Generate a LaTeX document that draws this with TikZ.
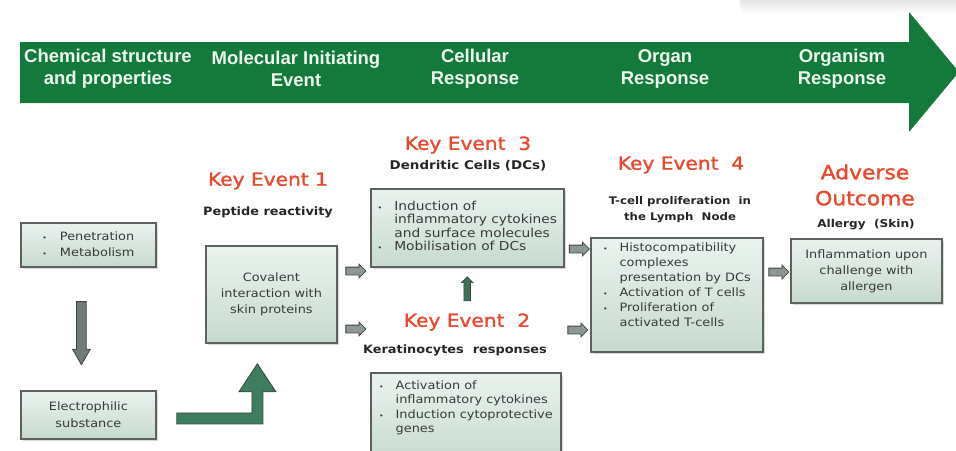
\documentclass[tikz,border=0pt]{standalone}
\usepackage{fontspec}
\newfontfamily\hdrfont{Liberation Sans}
\newfontfamily\bxfont[FakeStretch=1.12]{DejaVu Sans}
\newfontfamily\ketfont[FakeStretch=1.12,FakeBold=1.6]{DejaVu Sans}
\usetikzlibrary{shapes.arrows,shadows,calc}
\definecolor{hgreen}{HTML}{147A3C}
\definecolor{htext}{HTML}{EEF8F1}
\definecolor{kered}{HTML}{E64B2E}
\definecolor{boxtop}{HTML}{EAF3EE}
\definecolor{boxbot}{HTML}{C7DACF}
\definecolor{boxline}{HTML}{5C625E}
\definecolor{txt}{HTML}{3A3A3A}
\definecolor{arrfill}{HTML}{8E9892}
\definecolor{arrline}{HTML}{3E4642}
\definecolor{uparr}{HTML}{3F6F59}
\definecolor{bentfill}{HTML}{3C7E5E}
\newcommand\mybul{{\fontsize{7}{7}\selectfont\textbullet}}
\begin{document}
\begin{tikzpicture}[x=1pt,y=-1pt,
  hdr/.style={text=htext, font=\hdrfont\bfseries\fontsize{18.5}{22}\selectfont, align=center, inner sep=0pt},
  box/.style={draw=boxline, line width=1.8pt, top color=boxtop, bottom color=boxbot,
    drop shadow={shadow xshift=2pt, shadow yshift=-2pt, opacity=0.3},
    inner sep=0pt, anchor=north west, align=center, text=txt,
    font=\bxfont\fontsize{11.5}{16}\selectfont},
  btxt/.style={text=txt, inner sep=0pt, anchor=north, align=left},
  ket/.style={text=kered, font=\ketfont\fontsize{18}{26}\selectfont, inner sep=0pt, align=center},
  sub/.style={text=black!85, font=\bxfont\bfseries\fontsize{11.5}{16}\selectfont, inner sep=0pt, align=center},
  sarrow/.style={single arrow, draw=arrline, fill=arrfill, line width=0.8pt,
    minimum height=20pt, minimum width=0pt, inner xsep=0pt, inner ysep=3.5pt,
    single arrow head extend=3pt},
  downarr/.style={single arrow, draw=arrline, fill=arrfill!80!black, line width=0.8pt,
    minimum height=63pt, minimum width=0pt, inner ysep=0pt, inner xsep=4.5pt,
    single arrow head extend=4pt, single arrow tip angle=60, shape border rotate=270},
  uparrow/.style={single arrow, draw=uparr!70!black, fill=uparr, line width=0.6pt,
    minimum height=24pt, minimum width=0pt, inner ysep=0pt, inner xsep=3pt,
    single arrow head extend=2.5pt, shape border rotate=90},
  bentarrow/.style={fill=bentfill, draw=arrline, line width=0.8pt, line join=miter}
]
\useasboundingbox (0,0) rectangle (956,450);
% faint shadow at top right
\shade[top color=gray!40, bottom color=white, rounded corners=10pt] (740,-14) rectangle (980,14);

% green band arrow
\fill[hgreen] (20,42) -- (909,42) -- (909,12) -- (959,72) -- (909,132) -- (909,103) -- (20,103) -- cycle;
\node[hdr] (h1) at (108,69) {Chemical structure\\and properties};
\node[hdr] (h2) at (296,69) {Molecular Initiating\\Event};
\node[hdr] (h3) at (475,69) {Cellular\\Response};
\node[hdr] (h4) at (665,69) {Organ\\Response};
\node[hdr] (h5) at (842,69) {Organism\\Response};

% titles
\node[ket] (ke1t) at (268,181) {Key Event 1};
\node[sub] (ke1s) at (268,212) {Peptide reactivity};
\node[ket] (ke3t) at (468,145) {Key Event\ \ 3};
\node[sub, font=\bxfont\bfseries\fontsize{12}{16}\selectfont] (ke3s) at (468,166) {Dendritic Cells (DCs)};
\node[ket] (ke2t) at (467,322) {Key Event\ \ 2};
\node[sub] (ke2s) at (455,350) {Keratinocytes\ \ responses};
\node[ket] (ke4t) at (681,165) {Key Event\ \ 4};
\node[sub, font=\bxfont\bfseries\fontsize{10.5}{16}\selectfont] (ke4s) at (680,210) {T-cell proliferation\ \ in\\the Lymph\ \ Node};
\node[ket, font=\ketfont\fontsize{19.5}{26}\selectfont] (aot) at (865,185) {Adverse\\Outcome};
\node[sub, font=\bxfont\bfseries\fontsize{10.8}{16}\selectfont] (aos) at (866,225) {Allergy\ \ (Skin)};

% boxes
\node[box, minimum width=135pt, minimum height=44pt] (pen) at (20,222)
  {\begin{tabular}{@{}l@{\hspace{13pt}}l@{}}\mybul&Penetration\\\mybul&Metabolism\end{tabular}};
\node[box, minimum width=135pt, minimum height=48pt, font=\bxfont\fontsize{11.5}{17}\selectfont] (elec) at (20,390)
  {Electrophilic\\substance};
\node[box, minimum width=131pt, minimum height=97pt] (cov) at (205,245)
  {Covalent\\interaction with\\skin proteins};
\node[box, minimum width=193pt, minimum height=78pt, font=\bxfont\fontsize{12.3}{13.5}\selectfont] (ke3) at (370,188)
  {\begin{tabular}{@{}l@{\hspace{12pt}}l@{}}\mybul&Induction of\\&inflammatory cytokines\\&and surface molecules\\\mybul&Mobilisation of DCs\end{tabular}};
\node[box, minimum width=190pt, minimum height=90pt] (ke2) at (370,372) {};
\node[btxt, font=\bxfont\fontsize{11.5}{14.5}\selectfont] (ke2x) at ($(ke2.north)+(0,7)$)
  {\begin{tabular}{@{}l@{\hspace{12pt}}l@{}}\mybul&Activation of\\&inflammatory cytokines\\\mybul&Induction cytoprotective\\&genes\end{tabular}};
\node[box, minimum width=172pt, minimum height=114pt] (ke4) at (590,237) {};
\node[btxt, font=\bxfont\fontsize{11.5}{15}\selectfont] (ke4x) at ($(ke4.north)+(0,3.5)$)
  {\begin{tabular}{@{}l@{\hspace{12pt}}l@{}}\mybul&Histocompatibility\\&complexes\\&presentation by DCs\\\mybul&Activation of T cells\\\mybul&Proliferation of\\&activated T-cells\end{tabular}};
\node[box, minimum width=151pt, minimum height=64pt] (ao) at (790,238)
  {Inflammation upon\\challenge with\\allergen};

% connectors
\path ($(pen.south)+(-7,0)$) -- ($(elec.north)+(-7,0)$) node[midway, downarr] (d1) {};
\path (cov.east |- 0,271) -- (ke3.west |- 0,271) node[midway, sarrow] (a1) {};
\path (cov.east |- 0,329) -- (ke2.west |- 0,329) node[midway, sarrow] (a2) {};
\path (ke3.east |- 0,249) -- (ke4.west |- 0,249) node[midway, sarrow] (a3) {};
\path (ke2.east |- 0,330) -- (ke4.west |- 0,330) node[midway, sarrow] (a4) {};
\path (ke4.east |- 0,272) -- (ao.west |- 0,272) node[midway, sarrow] (a5) {};
\path (ke2t.north) -- (ke3.south) node[midway, uparrow] (u1) {};

% bent arrow from electrophilic substance to covalent interaction
\coordinate (bs) at ($(elec.east)+(20,3.5)$);
\coordinate (bt) at ($(cov.south)+(-14,20)$);
\filldraw[bentarrow] let \p1=(bs), \p2=(bt) in
  (\x1,\y1+5.5pt) -- (\x2-5.5pt,\y1+5.5pt) -- (\x2-5.5pt,\y2-28pt) -- (\x2-18.5pt,\y2-28pt)
  -- (\x2,\y2) -- (\x2+18.5pt,\y2-28pt) -- (\x2+5.5pt,\y2-28pt) -- (\x2+5.5pt,\y1-5.5pt)
  -- (\x1,\y1-5.5pt) -- cycle;
\end{tikzpicture}
\end{document}
